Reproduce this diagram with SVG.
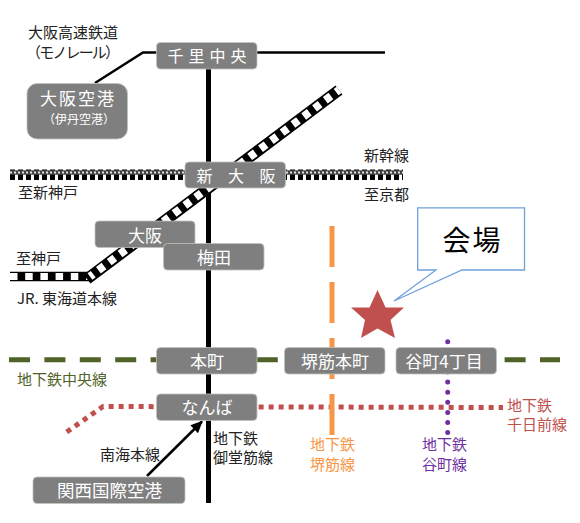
<svg xmlns="http://www.w3.org/2000/svg" width="580" height="523" viewBox="0 0 580 523">
<style>
text{font-family:"Noto Sans CJK JP","Noto Sans",sans-serif}
.b{fill:#7f7f7f;stroke:#bfc4bd;stroke-width:.8}
.w{fill:#fff;text-anchor:middle;font-size:17px}
.k{fill:#222;font-size:15px}
.l{fill:none}
</style>
<defs><marker id="ah" markerUnits="userSpaceOnUse" markerWidth="14" markerHeight="14" refX="11" refY="5.500" orient="auto"><path d="M0 0L12 5.500L0 11Z" fill="#000"/></marker></defs>
<g id="connectors" class="l">
<path d="M208.500 55V503" stroke="#000" stroke-width="5"/>
<path d="M10 174.800H403" stroke="#000" stroke-width="10.500" stroke-dasharray="5 3"/>
<path d="M10 172.500H403" stroke="#444" stroke-width="4.500"/>
<path d="M10 172.500H403" stroke="#ddd" stroke-width="1.800" stroke-dasharray="2 2"/>
<path d="M10 276.500H90" stroke="#000" stroke-width="9.500"/>
<path d="M10 276.500H90" stroke="#fff" stroke-width="7" stroke-dasharray="7.500 7.700"/>
<path d="M87 279L339 90" stroke="#000" stroke-width="11.500"/>
<path d="M90 276.500L339 90" stroke="#fff" stroke-width="8" stroke-dasharray="7 6.500" stroke-dashoffset="3"/>
<path d="M95 83L143 52.500H385" stroke="#000" stroke-width="2.500"/>
<path d="M66.700 432L103 406.500L503 407.500" stroke="#c0504d" stroke-width="5" stroke-dasharray="5 5"/>
<path d="M332 226V435" stroke="#f79646" stroke-width="5" stroke-dasharray="41 15"/>
<path d="M9 359.700H560" stroke="#4f6228" stroke-width="5" stroke-dasharray="21 14.400"/>
<path d="M447.700 341.700V433" stroke="#7030a0" stroke-width="5" stroke-linecap="round" stroke-dasharray="0 10.100"/>
<path d="M147 476L202 421.500" stroke="#000" stroke-width="2.500" marker-end="url(#ah)"/>
</g>
<g id="senri"><rect class="b" x="156.500" y="42.500" width="100.500" height="26.500" rx="4"/><text class="w" x="209.500" y="62" letter-spacing="5" style="font-size:16px">千里中央</text></g>
<g id="itami"><rect class="b" x="27" y="83.500" width="100.500" height="55.500" rx="10"/><text class="w" x="78" y="105" letter-spacing="2">大阪空港</text><text class="w" x="79" y="124" style="font-size:12px">（伊丹空港）</text></g>
<g id="shinosaka"><rect class="b" x="185" y="162" width="100.500" height="26" rx="4"/><text class="w" x="239" y="182" letter-spacing="6" style="font-size:16px">新 大 阪</text></g>
<g id="osaka"><rect class="b" x="95" y="221" width="100" height="26.500" rx="4"/><text class="w" x="145" y="242">大阪</text></g>
<g id="umeda"><rect class="b" x="163.500" y="243.500" width="100.500" height="26.500" rx="4"/><text class="w" x="214" y="264">梅田</text></g>
<g id="honmachi"><rect class="b" x="156.500" y="347.500" width="100.500" height="26.500" rx="4"/><text class="w" x="207" y="368">本町</text></g>
<g id="sakaisuji"><rect class="b" x="284.500" y="347.500" width="100.500" height="26.500" rx="4"/><text class="w" x="335" y="368">堺筋本町</text></g>
<g id="tanimachi"><rect class="b" x="396" y="347.500" width="100.500" height="26.500" rx="4"/><text class="w" x="444" y="368">谷町4丁目</text></g>
<g id="namba"><rect class="b" x="156.500" y="394" width="100.500" height="26.500" rx="4"/><text class="w" x="207" y="414">なんば</text></g>
<g id="kansai"><rect class="b" x="33" y="477" width="152" height="26.500" rx="4"/><text class="w" x="109.500" y="497" style="font-size:17.500px">関西国際空港</text></g>
<g id="venue"><path d="M417.700 207.800H524.500V270H462L394 301L436 270H417.700Z" fill="#fff" stroke="#6fa0dc" stroke-width="1.300"/><text x="472.500" y="250.500" text-anchor="middle" letter-spacing="2" fill="#000" style="font-size:28px">会場</text></g>
<g id="star"><path d="M377.500 290L385.600 307.500H404L390.500 320L395 338L377.500 328.500L361 338L365 320L351 307.500H369.500Z" fill="#c0504d"/></g>
<g id="labels">
<text class="k" x="28" y="38">大阪高速鉄道</text>
<text class="k" x="26" y="58" textLength="94">（モノレール）</text>
<text class="k" x="18" y="198">至新神戸</text>
<text class="k" x="16" y="264">至神戸</text>
<text class="k" x="17" y="304">JR. 東海道本線</text>
<text class="k" x="364" y="161">新幹線</text>
<text class="k" x="364" y="200">至京都</text>
<text class="k" x="17" y="385" style="fill:#4f6228">地下鉄中央線</text>
<text class="k" x="100" y="460">南海本線</text>
<text class="k" x="213" y="444">地下鉄</text>
<text class="k" x="213" y="463">御堂筋線</text>
<text class="k" x="310" y="450" style="fill:#f79646">地下鉄</text>
<text class="k" x="310" y="470" style="fill:#f79646">堺筋線</text>
<text class="k" x="422" y="450" style="fill:#7030a0">地下鉄</text>
<text class="k" x="422" y="470" style="fill:#7030a0">谷町線</text>
<text class="k" x="507" y="411" style="fill:#c0504d">地下鉄</text>
<text class="k" x="507" y="430" style="fill:#c0504d">千日前線</text>
</g>
</svg>
